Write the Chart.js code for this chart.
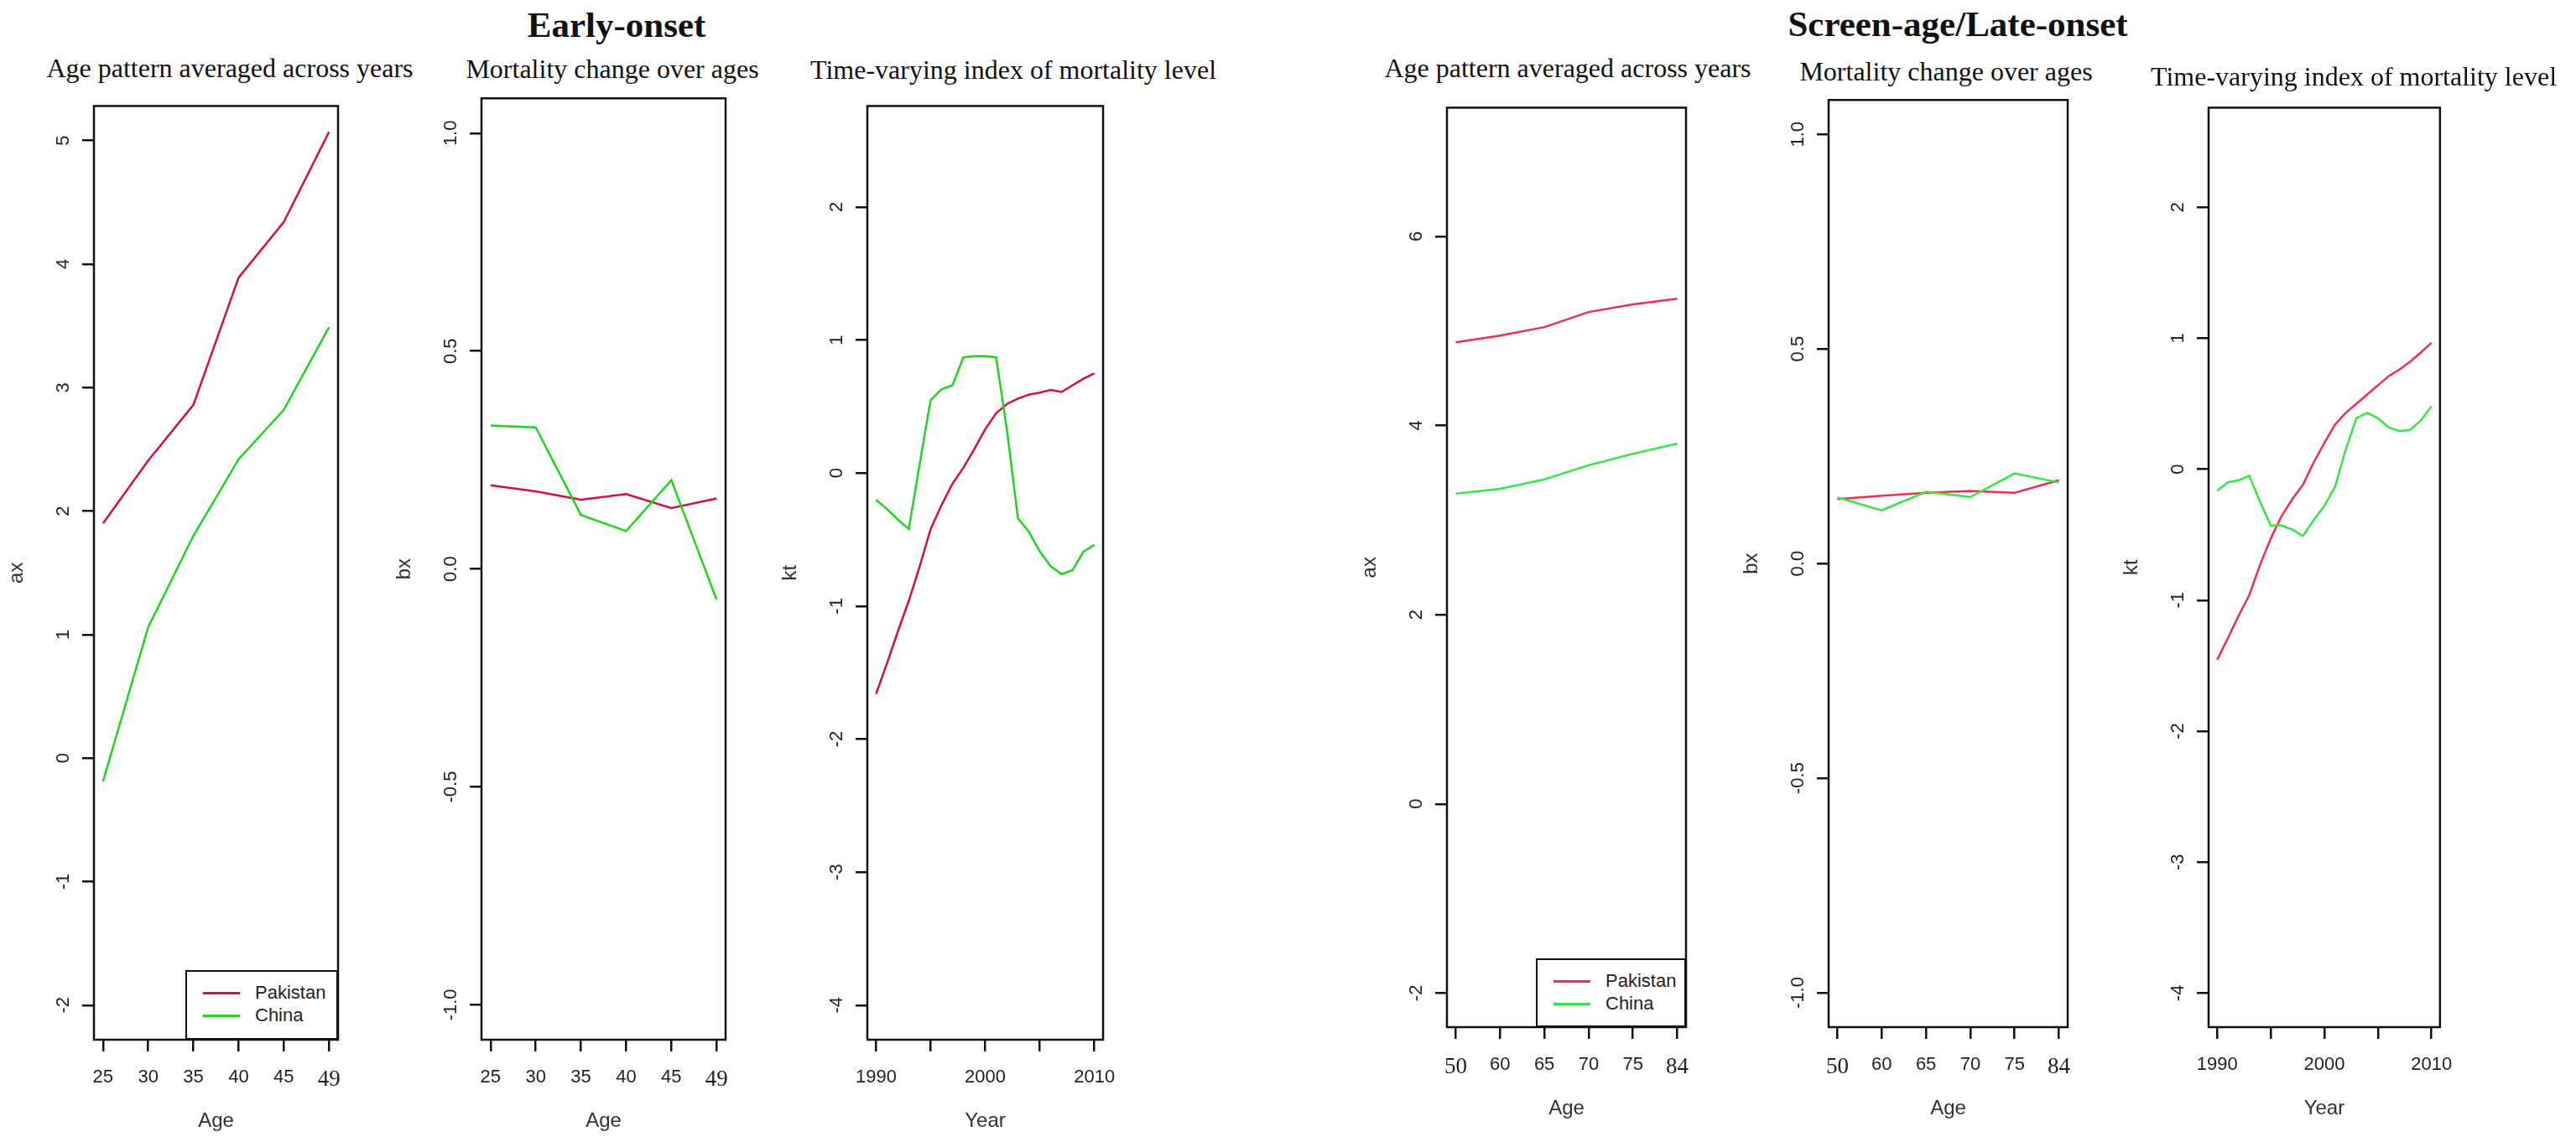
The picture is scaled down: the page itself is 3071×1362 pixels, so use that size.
<!DOCTYPE html>
<html lang="en">
<head>
    <meta charset="UTF-8">
    <title>Early-onset vs Screen-age/Late-onset: Pakistan and China</title>
    <script src="https://cdn.jsdelivr.net/npm/chart.js@4.4.1/dist/chart.umd.min.js"></script>
    <style>
        * {
            margin: 0;
            padding: 0;
            box-sizing: border-box;
        }

        body {
            width: 3071px;
            height: 1362px;
            position: relative;
            overflow: hidden;
            background: #fff;
            font-family: 'Liberation Sans', Arial, sans-serif;
        }

        canvas {
            position: absolute;
        }

        /* Titles */
        .title {
            position: absolute;
            white-space: nowrap;
            transform: translateX(-50%);
            font-family: 'Liberation Serif', 'Times New Roman', serif;
            color: #111;
        }

        .title.main {
            font-weight: bold;
        }

        /* Legend box inside the ax panels */
        .legend {
            position: absolute;
            border: 2px solid #111;
            background: #fff;
        }

        .legend .swatch {
            position: absolute;
            height: 3px;
        }

        .legend .label {
            position: absolute;
            font-size: 22px;
            line-height: 22px;
            color: #222;
            transform: translateY(-50%);
        }
    </style>
</head>
<body>
    <script>
        // Series and categories
        const seriesNames = ['Pakistan', 'China'];
        const earlyAges = ['25', '30', '35', '40', '45', '49'];
        const lateAges = ['50', '60', '65', '70', '75', '84'];
        const years = [1990, 1991, 1992, 1993, 1994, 1995, 1996, 1997, 1998, 1999, 2000,
                       2001, 2002, 2003, 2004, 2005, 2006, 2007, 2008, 2009, 2010];
        const yearTicks = [1990, 1995, 2000, 2005, 2010];
        const yearLabels = [1990, 2000, 2010];

        // Early-onset
        const earlyAxPakistan = [1.90, 2.41, 2.86, 3.89, 4.34, 5.07];
        const earlyAxChina = [-0.19, 1.06, 1.80, 2.42, 2.82, 3.49];
        const earlyBxPakistan = [0.192, 0.178, 0.159, 0.172, 0.140, 0.162];
        const earlyBxChina = [0.329, 0.325, 0.124, 0.087, 0.204, -0.070];
        const earlyKtPakistan = [-1.66, -1.43, -1.19, -0.96, -0.70, -0.42, -0.24, -0.08, 0.04, 0.18, 0.33,
                                 0.45, 0.52, 0.56, 0.59, 0.605, 0.625, 0.61, 0.66, 0.71, 0.75];
        const earlyKtChina = [-0.20, -0.27, -0.35, -0.42, 0.07, 0.55, 0.63, 0.66, 0.87, 0.88, 0.88,
                              0.87, 0.32, -0.34, -0.44, -0.59, -0.70, -0.76, -0.73, -0.59, -0.54];

        // Screen-age / late-onset
        const lateAxPakistan = [4.88, 4.95, 5.04, 5.20, 5.28, 5.34];
        const lateAxChina = [3.28, 3.33, 3.43, 3.58, 3.70, 3.81];
        const lateBxPakistan = [0.150, 0.158, 0.165, 0.169, 0.165, 0.194];
        const lateBxChina = [0.154, 0.124, 0.167, 0.155, 0.210, 0.189];
        const lateKtPakistan = [-1.455, -1.29, -1.12, -0.96, -0.73, -0.53, -0.36, -0.23, -0.12, 0.05, 0.20,
                                0.34, 0.43, 0.50, 0.57, 0.64, 0.71, 0.76, 0.82, 0.89, 0.965];
        const lateKtChina = [-0.164, -0.10, -0.085, -0.05, -0.25, -0.43, -0.43, -0.46, -0.51, -0.39, -0.28,
                             -0.135, 0.15, 0.39, 0.43, 0.39, 0.32, 0.29, 0.30, 0.37, 0.48];

        // Axis ticks
        const earlyAxTicks = [-2, -1, 0, 1, 2, 3, 4, 5];
        const lateAxTicks = [-2, 0, 2, 4, 6];
        const bxTicks = [-1, -0.5, 0, 0.5, 1];
        const ktTicks = [-4, -3, -2, -1, 0, 1, 2];
        const serifTickLabels = ['49', '50', '84'];

        const SANS = "'Liberation Sans', Arial, sans-serif";
        const SERIF = "'Liberation Serif', 'Times New Roman', serif";
        const LEFT_COLORS = ['#d4103c', '#20d420'];
        const RIGHT_COLORS = ['#f42c4e', '#34e844'];

        // plot boxes [left, top, right, bottom] in page pixels
        const panels = [
            { box: [112, 112.5, 402.6, 1239.6], cats: earlyAges, data: [earlyAxPakistan, earlyAxChina],
              ylim: [-2, 5], yTicks: earlyAxTicks, digits: 0, yTitle: 'ax', xTitle: 'Age', colors: LEFT_COLORS },
            { box: [574, 112.5, 864.6, 1239.6], cats: earlyAges, data: [earlyBxPakistan, earlyBxChina],
              ylim: [-1, 1], yTicks: bxTicks, digits: 1, yTitle: 'bx', xTitle: 'Age', colors: LEFT_COLORS },
            { box: [1034.4, 112.5, 1324.7, 1239.6], cats: null, data: [earlyKtPakistan, earlyKtChina],
              ylim: [-4, 2.5], yTicks: ktTicks, digits: 0, yTitle: 'kt', xTitle: 'Year', colors: LEFT_COLORS },
            { box: [1724.5, 114.7, 2009.5, 1224.8], cats: lateAges, data: [lateAxPakistan, lateAxChina],
              ylim: [-2, 7], yTicks: lateAxTicks, digits: 0, yTitle: 'ax', xTitle: 'Age', colors: RIGHT_COLORS },
            { box: [2180, 114.7, 2464.7, 1224.8], cats: lateAges, data: [lateBxPakistan, lateBxChina],
              ylim: [-1, 1], yTicks: bxTicks, digits: 1, yTitle: 'bx', xTitle: 'Age', colors: RIGHT_COLORS },
            { box: [2633.4, 114.7, 2918, 1224.8], cats: null, data: [lateKtPakistan, lateKtChina],
              ylim: [-4, 2.5], yTicks: ktTicks, digits: 0, yTitle: 'kt', xTitle: 'Year', colors: RIGHT_COLORS }
        ];

        const titles = [
            { text: 'Early-onset', main: true, x: 735, base: 44.6, size: 43 },
            { text: 'Screen-age/Late-onset', main: true, x: 2334, base: 43.5, size: 43 },
            { text: 'Age pattern averaged across years', x: 274, base: 91.5, size: 32 },
            { text: 'Mortality change over ages', x: 730, base: 92.9, size: 32 },
            { text: 'Time-varying index of mortality level', x: 1208, base: 93.7, size: 32 },
            { text: 'Age pattern averaged across years', x: 1869, base: 91.5, size: 32 },
            { text: 'Mortality change over ages', x: 2320, base: 96, size: 32 },
            { text: 'Time-varying index of mortality level', x: 2806, base: 101.8, size: 32 }
        ];

        const legends = [
            { box: [221, 1157, 402.6, 1239.6], colors: LEFT_COLORS },
            { box: [1831, 1142.5, 2009.5, 1224.8], colors: RIGHT_COLORS }
        ];

        // R-style 4% axis extension
        const extend = (lo, hi) => [lo - 0.04 * (hi - lo), hi + 0.04 * (hi - lo)];

        const PAD_L = 110, PAD_T = 12, PAD_R = 24, PAD_B = 120;
        const TICK_LEN = 14, TICK_FONT = 22, TITLE_FONT = 24;

        const measure = document.createElement('canvas').getContext('2d');
        measure.font = TICK_FONT + 'px ' + SANS;

        const framePlugin = {
            id: 'frame',
            afterDraw(chart) {
                const { ctx, chartArea: a } = chart;
                ctx.save();
                ctx.lineWidth = 2.5;
                ctx.strokeStyle = '#111';
                ctx.strokeRect(a.left, a.top, a.right - a.left, a.bottom - a.top);
                ctx.restore();
            }
        };

        function buildPanel(p) {
            const [l, t, r, b] = p.box;
            const canvas = document.createElement('canvas');
            canvas.width = Math.round(r - l + PAD_L + PAD_R);
            canvas.height = Math.round(b - t + PAD_T + PAD_B);
            canvas.style.left = (l - PAD_L) + 'px';
            canvas.style.top = (t - PAD_T) + 'px';
            document.body.appendChild(canvas);

            const byAge = p.cats !== null;
            const xs = byAge ? p.cats.map((c, i) => i) : years;
            const xTickVals = byAge ? xs : yearTicks;
            const xlim = byAge ? extend(0, p.cats.length - 1) : extend(years[0], years[years.length - 1]);
            const ylim = extend(p.ylim[0], p.ylim[1]);

            const xLabel = v => byAge ? p.cats[v] : (yearLabels.includes(v) ? String(v) : '');
            const yLabel = v => v.toFixed(p.digits);

            // rotated y labels: keep their centre 36px left of the axis
            const widest = Math.max(...p.yTicks.map(v => measure.measureText(yLabel(v)).width));
            const yPad = 36 - TICK_LEN - widest / 2;

            const gridOpts = { drawOnChartArea: false, drawTicks: true, tickLength: TICK_LEN, color: '#111', lineWidth: 2.5 };

            new Chart(canvas, {
                type: 'line',
                data: {
                    datasets: p.data.map((vals, k) => ({
                        label: seriesNames[k],
                        data: vals.map((v, i) => ({ x: xs[i], y: v })),
                        borderColor: p.colors[k],
                        borderWidth: 2.5,
                        pointRadius: 0,
                        tension: 0,
                        fill: false,
                        order: k === 0 ? 1 : 0
                    }))
                },
                options: {
                    responsive: false,
                    animation: false,
                    layout: { padding: { left: 0, top: PAD_T, right: PAD_R, bottom: 0 } },
                    plugins: { legend: { display: false }, tooltip: { enabled: false } },
                    scales: {
                        x: {
                            type: 'linear',
                            min: xlim[0],
                            max: xlim[1],
                            afterBuildTicks: s => { s.ticks = xTickVals.map(v => ({ value: v })); },
                            afterFit: s => { s.height = PAD_B; },
                            grid: gridOpts,
                            border: { display: false },
                            ticks: {
                                autoSkip: false,
                                minRotation: 0,
                                maxRotation: 0,
                                padding: 18,
                                color: '#222',
                                callback: v => xLabel(v),
                                font: ctx => (ctx.tick && serifTickLabels.includes(xLabel(ctx.tick.value)))
                                    ? { family: SERIF, size: 27 }
                                    : { family: SANS, size: TICK_FONT }
                            },
                            title: {
                                display: true,
                                text: p.xTitle,
                                color: '#333',
                                font: { family: SANS, size: TITLE_FONT },
                                padding: { top: 0, bottom: 8 }
                            }
                        },
                        y: {
                            type: 'linear',
                            min: ylim[0],
                            max: ylim[1],
                            afterBuildTicks: s => { s.ticks = p.yTicks.map(v => ({ value: v })); },
                            afterFit: s => { s.width = PAD_L; },
                            grid: gridOpts,
                            border: { display: false },
                            ticks: {
                                autoSkip: false,
                                minRotation: 90,
                                maxRotation: 90,
                                crossAlign: 'center',
                                padding: yPad,
                                color: '#222',
                                font: { family: SANS, size: TICK_FONT },
                                callback: v => yLabel(v)
                            },
                            title: {
                                display: true,
                                text: p.yTitle,
                                color: '#333',
                                font: { family: SANS, size: TITLE_FONT },
                                padding: { top: 4, bottom: 0 }
                            }
                        }
                    }
                },
                plugins: [framePlugin]
            });
        }

        function addTitle(t) {
            const div = document.createElement('div');
            div.className = 'title' + (t.main ? ' main' : '');
            div.textContent = t.text;
            div.style.fontSize = t.size + 'px';
            div.style.lineHeight = t.size + 'px';
            div.style.left = t.x + 'px';
            div.style.top = (t.base - 0.84 * t.size) + 'px';
            document.body.appendChild(div);
        }

        function addLegend(g) {
            const [l, t, r, b] = g.box;
            const box = document.createElement('div');
            box.className = 'legend';
            box.style.left = l + 'px';
            box.style.top = t + 'px';
            box.style.width = (r - l) + 'px';
            box.style.height = (b - t) + 'px';
            seriesNames.forEach((name, k) => {
                const cy = 27 + k * 27;
                const sw = document.createElement('div');
                sw.className = 'swatch';
                sw.style.left = '19px';
                sw.style.width = '44px';
                sw.style.top = (cy - 3) + 'px';
                sw.style.background = g.colors[k];
                box.appendChild(sw);
                const lab = document.createElement('div');
                lab.className = 'label';
                lab.style.left = '81px';
                lab.style.top = (cy - 2) + 'px';
                lab.textContent = name;
                box.appendChild(lab);
            });
            document.body.appendChild(box);
        }

        panels.forEach(buildPanel);
        titles.forEach(addTitle);
        legends.forEach(addLegend);
    </script>
</body>
</html>
